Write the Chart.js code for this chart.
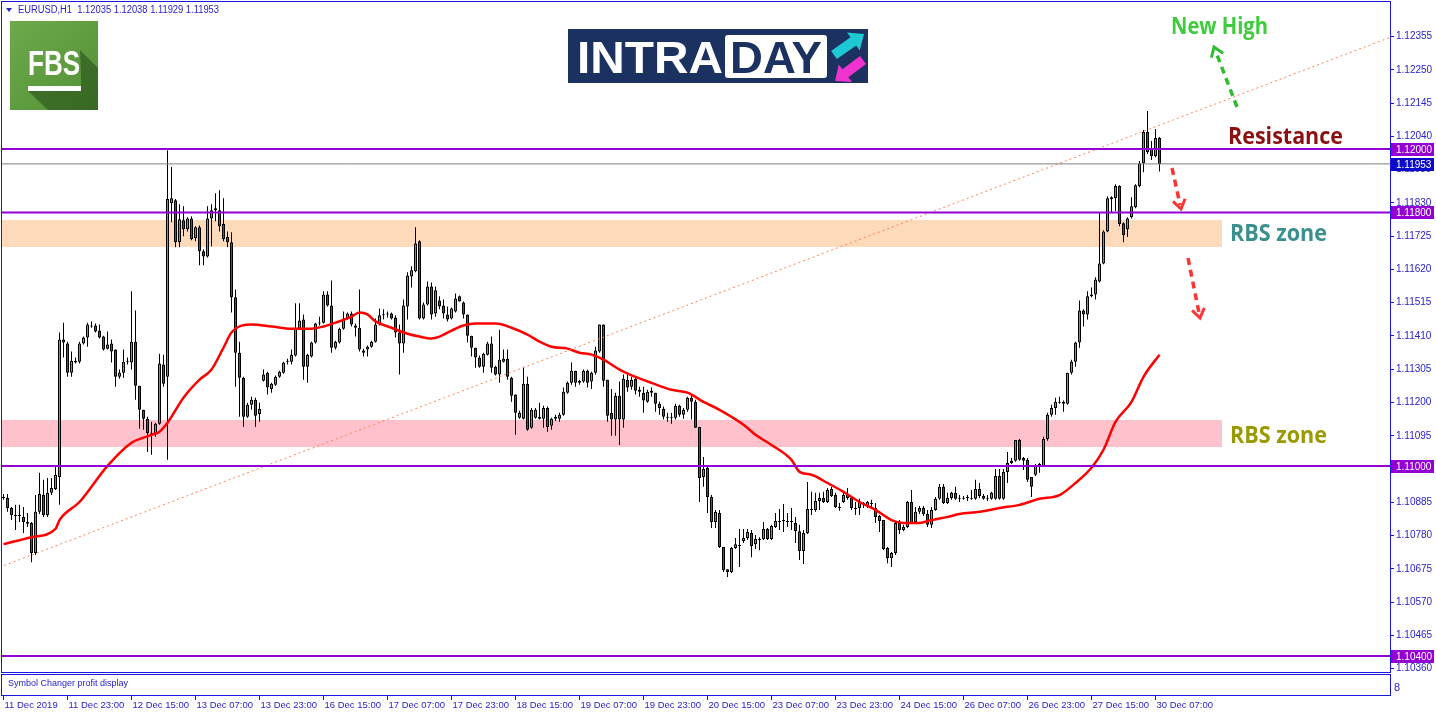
<!DOCTYPE html>
<html>
<head>
<meta charset="utf-8">
<title>EURUSD H1 - Intraday</title>
<script src="https://cdn.jsdelivr.net/npm/chart.js@4.4.1/dist/chart.umd.min.js"></script>
<style>
  html, body { margin: 0; padding: 0; background: #ffffff; }
  canvas { display: block; }
</style>
</head>
<body>
<canvas id="chart" width="1436" height="716"></canvas>
<script>
// ---- data (bar 0 = 11 Dec 07:00) ----

const tickLabels = ['11 Dec 2019', '11 Dec 23:00', '12 Dec 15:00', '13 Dec 07:00', '13 Dec 23:00',
  '16 Dec 15:00', '17 Dec 07:00', '17 Dec 23:00', '18 Dec 15:00', '19 Dec 07:00', '19 Dec 23:00',
  '20 Dec 15:00', '23 Dec 07:00', '23 Dec 23:00', '24 Dec 15:00', '26 Dec 07:00', '26 Dec 23:00',
  '27 Dec 15:00', '30 Dec 07:00'];

const priceTicks = [1.12355, 1.12250, 1.12145, 1.12040, 1.11935, 1.11830, 1.11725, 1.11620, 1.11515, 1.11410,
  1.11305, 1.11200, 1.11095, 1.10990, 1.10885, 1.10780, 1.10675, 1.10570, 1.10465, 1.10360];

const open = [
  1.10902, 1.10899, 1.10867, 1.10845, 1.10842, 1.10839, 1.10823, 1.10820, 1.10725, 1.10855,
  1.10908, 1.10845, 1.10915, 1.10927, 1.10965, 1.11399, 1.11386, 1.11294, 1.11326, 1.11329,
  1.11386, 1.11405, 1.11443, 1.11443, 1.11427, 1.11408, 1.11370, 1.11386, 1.11367, 1.11281,
  1.11294, 1.11329, 1.11326, 1.11392, 1.11253, 1.11177, 1.11149, 1.11104, 1.11101, 1.11133,
  1.11320, 1.11281, 1.11829, 1.11838, 1.11706, 1.11775, 1.11747, 1.11781, 1.11718, 1.11753,
  1.11677, 1.11661, 1.11781, 1.11807, 1.11807, 1.11763, 1.11722, 1.11706, 1.11532, 1.11357,
  1.11278, 1.11155, 1.11193, 1.11209, 1.11164, 1.11269, 1.11294, 1.11243, 1.11256, 1.11281,
  1.11294, 1.11329, 1.11329, 1.11348, 1.11433, 1.11462, 1.11313, 1.11345, 1.11389, 1.11449,
  1.11452, 1.11541, 1.11506, 1.11373, 1.11389, 1.11433, 1.11465, 1.11481, 1.11443, 1.11436,
  1.11364, 1.11367, 1.11376, 1.11392, 1.11446, 1.11475, 1.11478, 1.11481, 1.11468, 1.11421,
  1.11386, 1.11503, 1.11598, 1.11614, 1.11709, 1.11465, 1.11509, 1.11566, 1.11481, 1.11522,
  1.11506, 1.11478, 1.11465, 1.11487, 1.11535, 1.11516, 1.11478, 1.11411, 1.11373, 1.11342,
  1.11313, 1.11351, 1.11386, 1.11313, 1.11288, 1.11329, 1.11338, 1.11278, 1.11225, 1.11152,
  1.11149, 1.11259, 1.11120, 1.11152, 1.11155, 1.11149, 1.11183, 1.11127, 1.11155, 1.11149,
  1.11161, 1.11231, 1.11262, 1.11300, 1.11262, 1.11266, 1.11300, 1.11266, 1.11294, 1.11361,
  1.11446, 1.11272, 1.11168, 1.11146, 1.11221, 1.11146, 1.11272, 1.11250, 1.11275, 1.11240,
  1.11231, 1.11202, 1.11237, 1.11231, 1.11196, 1.11180, 1.11155, 1.11155, 1.11152, 1.11190,
  1.11161, 1.11177, 1.11215, 1.11202, 1.11123, 1.10965, 1.10994, 1.10902, 1.10823, 1.10851,
  1.10744, 1.10674, 1.10665, 1.10741, 1.10750, 1.10763, 1.10772, 1.10788, 1.10753, 1.10769,
  1.10769, 1.10801, 1.10769, 1.10807, 1.10826, 1.10826, 1.10826, 1.10823, 1.10820, 1.10794,
  1.10731, 1.10788, 1.10864, 1.10861, 1.10889, 1.10899, 1.10886, 1.10927, 1.10908, 1.10870,
  1.10886, 1.10911, 1.10899, 1.10867, 1.10867, 1.10883, 1.10873, 1.10883, 1.10867, 1.10842,
  1.10829, 1.10741, 1.10709, 1.10725, 1.10820, 1.10798, 1.10807, 1.10886, 1.10823, 1.10855,
  1.10867, 1.10848, 1.10814, 1.10861, 1.10896, 1.10934, 1.10883, 1.10899, 1.10915, 1.10896,
  1.10899, 1.10899, 1.10899, 1.10896, 1.10927, 1.10905, 1.10896, 1.10896, 1.10896, 1.10968,
  1.10896, 1.10981, 1.11009, 1.11016, 1.11082, 1.11025, 1.11019, 1.10965, 1.10972, 1.11000,
  1.11000, 1.11085, 1.11161, 1.11183, 1.11202, 1.11202, 1.11196, 1.11294, 1.11329, 1.11389,
  1.11490, 1.11478, 1.11535, 1.11541, 1.11582, 1.11639, 1.11740, 1.11842, 1.11845, 1.11883,
  1.11766, 1.11747, 1.11785, 1.11816, 1.11883, 1.11955, 1.12054, 1.12003, 1.11977, 1.12035
];

const high = [
  1.10911, 1.10911, 1.10870, 1.10877, 1.10877, 1.10870, 1.10851, 1.10823, 1.10908, 1.10978,
  1.10956, 1.10962, 1.10962, 1.10997, 1.11421, 1.11452, 1.11392, 1.11361, 1.11342, 1.11392,
  1.11408, 1.11452, 1.11456, 1.11449, 1.11446, 1.11411, 1.11424, 1.11399, 1.11367, 1.11304,
  1.11367, 1.11342, 1.11551, 1.11490, 1.11253, 1.11177, 1.11155, 1.11139, 1.11136, 1.11354,
  1.11351, 1.11996, 1.11943, 1.11842, 1.11826, 1.11819, 1.11785, 1.11788, 1.11756, 1.11759,
  1.11683, 1.11819, 1.11826, 1.11860, 1.11870, 1.11845, 1.11740, 1.11737, 1.11557, 1.11392,
  1.11281, 1.11199, 1.11218, 1.11215, 1.11199, 1.11304, 1.11297, 1.11262, 1.11285, 1.11300,
  1.11329, 1.11338, 1.11367, 1.11513, 1.11513, 1.11478, 1.11354, 1.11392, 1.11452, 1.11471,
  1.11551, 1.11551, 1.11585, 1.11395, 1.11436, 1.11487, 1.11484, 1.11487, 1.11449, 1.11557,
  1.11370, 1.11380, 1.11395, 1.11465, 1.11497, 1.11494, 1.11487, 1.11484, 1.11475, 1.11446,
  1.11525, 1.11611, 1.11630, 1.11753, 1.11712, 1.11516, 1.11582, 1.11579, 1.11566, 1.11535,
  1.11525, 1.11503, 1.11500, 1.11544, 1.11538, 1.11519, 1.11478, 1.11411, 1.11373, 1.11348,
  1.11357, 1.11392, 1.11408, 1.11316, 1.11430, 1.11367, 1.11367, 1.11281, 1.11225, 1.11174,
  1.11313, 1.11281, 1.11183, 1.11183, 1.11199, 1.11190, 1.11187, 1.11152, 1.11161, 1.11168,
  1.11247, 1.11266, 1.11326, 1.11300, 1.11272, 1.11304, 1.11304, 1.11297, 1.11376, 1.11446,
  1.11446, 1.11272, 1.11243, 1.11231, 1.11266, 1.11288, 1.11288, 1.11281, 1.11281, 1.11250,
  1.11250, 1.11240, 1.11247, 1.11231, 1.11202, 1.11187, 1.11168, 1.11168, 1.11196, 1.11193,
  1.11183, 1.11218, 1.11225, 1.11209, 1.11123, 1.11028, 1.10997, 1.10908, 1.10861, 1.10861,
  1.10744, 1.10674, 1.10744, 1.10772, 1.10801, 1.10801, 1.10801, 1.10798, 1.10782, 1.10775,
  1.10823, 1.10804, 1.10814, 1.10851, 1.10864, 1.10880, 1.10851, 1.10867, 1.10839, 1.10814,
  1.10798, 1.10949, 1.10918, 1.10915, 1.10915, 1.10918, 1.10930, 1.10934, 1.10915, 1.10883,
  1.10915, 1.10930, 1.10902, 1.10886, 1.10896, 1.10886, 1.10889, 1.10893, 1.10883, 1.10845,
  1.10829, 1.10744, 1.10728, 1.10823, 1.10829, 1.10814, 1.10889, 1.10924, 1.10870, 1.10873,
  1.10873, 1.10861, 1.10870, 1.10902, 1.10943, 1.10943, 1.10915, 1.10918, 1.10934, 1.10908,
  1.10905, 1.10908, 1.10924, 1.10956, 1.10946, 1.10911, 1.10908, 1.10918, 1.10990, 1.10990,
  1.10990, 1.11044, 1.11025, 1.11082, 1.11085, 1.11028, 1.11025, 1.10965, 1.11006, 1.11009,
  1.11092, 1.11168, 1.11193, 1.11215, 1.11218, 1.11206, 1.11294, 1.11335, 1.11392, 1.11522,
  1.11494, 1.11551, 1.11563, 1.11595, 1.11800, 1.11744, 1.11851, 1.11851, 1.11889, 1.11886,
  1.11769, 1.11785, 1.11848, 1.11889, 1.11962, 1.12060, 1.12120, 1.12025, 1.12063, 1.12038
];

const low = [
  1.10893, 1.10855, 1.10829, 1.10798, 1.10823, 1.10788, 1.10807, 1.10696, 1.10719, 1.10848,
  1.10839, 1.10839, 1.10908, 1.10924, 1.10877, 1.11342, 1.11281, 1.11281, 1.11323, 1.11323,
  1.11383, 1.11376, 1.11436, 1.11421, 1.11402, 1.11364, 1.11367, 1.11326, 1.11250, 1.11275,
  1.11278, 1.11320, 1.11304, 1.11209, 1.11117, 1.11114, 1.11044, 1.11035, 1.11092, 1.11130,
  1.11250, 1.11019, 1.11769, 1.11690, 1.11690, 1.11725, 1.11740, 1.11712, 1.11709, 1.11633,
  1.11633, 1.11658, 1.11693, 1.11772, 1.11740, 1.11709, 1.11690, 1.11484, 1.11250, 1.11155,
  1.11123, 1.11152, 1.11177, 1.11123, 1.11139, 1.11266, 1.11225, 1.11231, 1.11253, 1.11278,
  1.11291, 1.11320, 1.11320, 1.11345, 1.11430, 1.11272, 1.11262, 1.11342, 1.11386, 1.11443,
  1.11449, 1.11503, 1.11357, 1.11367, 1.11386, 1.11430, 1.11462, 1.11440, 1.11408, 1.11361,
  1.11345, 1.11345, 1.11373, 1.11389, 1.11443, 1.11462, 1.11468, 1.11462, 1.11405, 1.11288,
  1.11357, 1.11462, 1.11563, 1.11611, 1.11462, 1.11462, 1.11506, 1.11462, 1.11471, 1.11494,
  1.11465, 1.11456, 1.11462, 1.11484, 1.11519, 1.11465, 1.11389, 1.11345, 1.11310, 1.11310,
  1.11294, 1.11348, 1.11294, 1.11285, 1.11262, 1.11326, 1.11272, 1.11202, 1.11098, 1.11149,
  1.11146, 1.11111, 1.11117, 1.11149, 1.11146, 1.11120, 1.11108, 1.11114, 1.11142, 1.11139,
  1.11158, 1.11228, 1.11256, 1.11250, 1.11256, 1.11262, 1.11247, 1.11243, 1.11288, 1.11357,
  1.11250, 1.11139, 1.11095, 1.11095, 1.11066, 1.11120, 1.11234, 1.11240, 1.11225, 1.11218,
  1.11168, 1.11199, 1.11218, 1.11171, 1.11161, 1.11146, 1.11139, 1.11133, 1.11146, 1.11155,
  1.11149, 1.11171, 1.11146, 1.11120, 1.10886, 1.10934, 1.10851, 1.10804, 1.10804, 1.10741,
  1.10665, 1.10649, 1.10662, 1.10738, 1.10681, 1.10757, 1.10766, 1.10712, 1.10738, 1.10734,
  1.10766, 1.10766, 1.10766, 1.10804, 1.10798, 1.10791, 1.10807, 1.10798, 1.10757, 1.10703,
  1.10690, 1.10785, 1.10845, 1.10855, 1.10861, 1.10883, 1.10883, 1.10902, 1.10867, 1.10858,
  1.10883, 1.10893, 1.10861, 1.10845, 1.10845, 1.10867, 1.10867, 1.10867, 1.10820, 1.10791,
  1.10734, 1.10693, 1.10681, 1.10719, 1.10785, 1.10794, 1.10804, 1.10817, 1.10817, 1.10848,
  1.10842, 1.10807, 1.10804, 1.10858, 1.10893, 1.10880, 1.10880, 1.10893, 1.10893, 1.10886,
  1.10893, 1.10889, 1.10893, 1.10893, 1.10899, 1.10893, 1.10889, 1.10893, 1.10893, 1.10893,
  1.10893, 1.10946, 1.11006, 1.11013, 1.11016, 1.10987, 1.10949, 1.10902, 1.10968, 1.10978,
  1.11000, 1.11079, 1.11155, 1.11161, 1.11196, 1.11171, 1.11193, 1.11288, 1.11313, 1.11373,
  1.11440, 1.11462, 1.11532, 1.11525, 1.11579, 1.11636, 1.11737, 1.11800, 1.11804, 1.11756,
  1.11706, 1.11722, 1.11781, 1.11813, 1.11879, 1.11927, 1.11984, 1.11965, 1.11974, 1.11929
];

const close = [
  1.10899, 1.10867, 1.10845, 1.10842, 1.10845, 1.10823, 1.10817, 1.10725, 1.10855, 1.10911,
  1.10845, 1.10915, 1.10930, 1.10972, 1.11399, 1.11389, 1.11294, 1.11332, 1.11332, 1.11386,
  1.11405, 1.11446, 1.11440, 1.11424, 1.11405, 1.11367, 1.11383, 1.11361, 1.11281, 1.11294,
  1.11329, 1.11332, 1.11392, 1.11253, 1.11177, 1.11149, 1.11104, 1.11101, 1.11133, 1.11323,
  1.11259, 1.11842, 1.11845, 1.11706, 1.11778, 1.11747, 1.11781, 1.11715, 1.11753, 1.11677,
  1.11661, 1.11781, 1.11807, 1.11813, 1.11756, 1.11715, 1.11706, 1.11532, 1.11357, 1.11278,
  1.11155, 1.11193, 1.11209, 1.11158, 1.11180, 1.11288, 1.11247, 1.11259, 1.11281, 1.11297,
  1.11326, 1.11332, 1.11351, 1.11436, 1.11459, 1.11313, 1.11351, 1.11389, 1.11449, 1.11452,
  1.11541, 1.11506, 1.11373, 1.11392, 1.11433, 1.11465, 1.11481, 1.11446, 1.11436, 1.11367,
  1.11357, 1.11376, 1.11392, 1.11446, 1.11475, 1.11478, 1.11481, 1.11465, 1.11421, 1.11386,
  1.11506, 1.11601, 1.11617, 1.11702, 1.11465, 1.11509, 1.11566, 1.11478, 1.11554, 1.11503,
  1.11481, 1.11462, 1.11497, 1.11528, 1.11519, 1.11478, 1.11411, 1.11373, 1.11342, 1.11313,
  1.11354, 1.11386, 1.11310, 1.11288, 1.11335, 1.11338, 1.11281, 1.11221, 1.11168, 1.11168,
  1.11259, 1.11114, 1.11177, 1.11177, 1.11149, 1.11183, 1.11123, 1.11149, 1.11149, 1.11161,
  1.11234, 1.11262, 1.11300, 1.11262, 1.11269, 1.11300, 1.11262, 1.11294, 1.11364, 1.11446,
  1.11269, 1.11158, 1.11146, 1.11221, 1.11146, 1.11275, 1.11247, 1.11272, 1.11237, 1.11234,
  1.11206, 1.11234, 1.11231, 1.11196, 1.11183, 1.11155, 1.11152, 1.11152, 1.11190, 1.11161,
  1.11177, 1.11215, 1.11202, 1.11120, 1.10962, 1.10990, 1.10902, 1.10823, 1.10855, 1.10744,
  1.10671, 1.10665, 1.10741, 1.10753, 1.10747, 1.10772, 1.10791, 1.10747, 1.10769, 1.10766,
  1.10801, 1.10769, 1.10810, 1.10826, 1.10823, 1.10829, 1.10823, 1.10826, 1.10794, 1.10731,
  1.10788, 1.10864, 1.10861, 1.10889, 1.10899, 1.10886, 1.10924, 1.10905, 1.10870, 1.10867,
  1.10908, 1.10899, 1.10867, 1.10864, 1.10886, 1.10880, 1.10886, 1.10880, 1.10839, 1.10826,
  1.10738, 1.10709, 1.10725, 1.10820, 1.10798, 1.10807, 1.10886, 1.10820, 1.10855, 1.10867,
  1.10848, 1.10814, 1.10861, 1.10896, 1.10934, 1.10883, 1.10899, 1.10915, 1.10896, 1.10899,
  1.10896, 1.10902, 1.10896, 1.10927, 1.10905, 1.10896, 1.10899, 1.10915, 1.10968, 1.10896,
  1.10981, 1.11009, 1.11016, 1.11082, 1.11019, 1.11016, 1.10956, 1.10934, 1.11003, 1.11006,
  1.11085, 1.11161, 1.11183, 1.11202, 1.11199, 1.11196, 1.11294, 1.11329, 1.11389, 1.11490,
  1.11478, 1.11535, 1.11541, 1.11588, 1.11639, 1.11740, 1.11845, 1.11848, 1.11883, 1.11763,
  1.11728, 1.11781, 1.11819, 1.11886, 1.11955, 1.12054, 1.11990, 1.11977, 1.12035, 1.11953
];

// red moving average, read at these bars
const maBars = [0, 7, 13, 14, 19, 26, 32, 35, 37, 39, 41, 45, 49, 52, 55, 57, 62, 67, 72, 77,
  80, 83, 87, 89, 91, 93, 97, 101, 104, 107, 109, 112, 115, 118, 123, 127, 131, 134, 137, 141,
  144, 147, 150, 154, 158, 162, 167, 171, 175, 179, 185, 188, 192, 197, 199, 202, 206, 210, 214, 218,
  222, 225, 229, 232, 236, 239, 244, 249, 254, 259, 264, 268, 272, 275, 278, 282, 285, 289];
const maValues = [1.10753, 1.10775, 1.10801, 1.10829, 1.10886, 1.11000, 1.11073, 1.11089, 1.11098, 1.11108,
  1.11136, 1.11215, 1.11272, 1.11304, 1.11373, 1.11421, 1.11446, 1.11440, 1.11433, 1.11433,
  1.11440, 1.11452, 1.11471, 1.11484, 1.11478, 1.11456, 1.11436, 1.11417, 1.11408, 1.11402,
  1.11408, 1.11427, 1.11443, 1.11449, 1.11449, 1.11436, 1.11414, 1.11392, 1.11376, 1.11370,
  1.11357, 1.11351, 1.11335, 1.11304, 1.11281, 1.11262, 1.11240, 1.11231, 1.11202, 1.11177,
  1.11130, 1.11098, 1.11066, 1.11019, 1.10981, 1.10972, 1.10946, 1.10918, 1.10886, 1.10861,
  1.10829, 1.10820, 1.10820, 1.10829, 1.10839, 1.10848, 1.10855, 1.10867, 1.10877, 1.10896,
  1.10908, 1.10946, 1.10994, 1.11051, 1.11139, 1.11202, 1.11281, 1.11351];

// dotted trend line
const trendBars = [-1, 348];
const trendValues = [1.10680, 1.12359];

// horizontal levels, bid line, RBS zones
const levels = [1.12000, 1.11800, 1.11000, 1.10400];
const bidPrice = 1.11953;
const zoneTop = [1.11775, 1.11146];
const zoneBottom = [1.11690, 1.11060];
const zoneEndBar = 304.6;

// ---- styling ----
const FRAME = '#1717e0';
const AXIS_TEXT = '#2a22cc';
const UP = '#2fcc2f';
const DOWN = '#dd1a1a';
const LEVEL = '#9400d3';
const FONT = '"Liberation Sans", Arial, sans-serif';
const ZONE_COLORS = ['#fddab9', '#ffc1cc'];

const bars = open.map((_, i) => i);
const wickData = bars.map(i => ({ x: i, y: [low[i], high[i]] }));
const bodyData = bars.map(i => ({ x: i, y: [open[i], close[i]] }));
const bodyColors = bars.map(i => close[i] > open[i] ? UP : (close[i] < open[i] ? DOWN : '#000'));

function dashedArrow(ctx, x1, y1, x2, y2, color) {
  const ang = Math.atan2(y2 - y1, x2 - x1);
  ctx.save();
  ctx.strokeStyle = color;
  ctx.lineWidth = 3.5;
  ctx.setLineDash([7, 5]);
  ctx.beginPath();
  ctx.moveTo(x1, y1);
  ctx.lineTo(x2 - 4 * Math.cos(ang), y2 - 4 * Math.sin(ang));
  ctx.stroke();
  ctx.setLineDash([]);
  ctx.lineWidth = 3;
  ctx.beginPath();
  ctx.moveTo(x2 - 11 * Math.cos(ang - 0.6), y2 - 11 * Math.sin(ang - 0.6));
  ctx.lineTo(x2, y2);
  ctx.lineTo(x2 - 11 * Math.cos(ang + 0.6), y2 - 11 * Math.sin(ang + 0.6));
  ctx.stroke();
  ctx.restore();
}

function blockArrow(ctx, x1, y1, x2, y2, color) {
  const ang = Math.atan2(y2 - y1, x2 - x1);
  const len = Math.hypot(x2 - x1, y2 - y1);
  ctx.save();
  ctx.translate(x1, y1);
  ctx.rotate(ang);
  ctx.fillStyle = color;
  ctx.beginPath();
  ctx.moveTo(0, -5);
  ctx.lineTo(len - 13, -5);
  ctx.lineTo(len - 13, -11);
  ctx.lineTo(len, 0);
  ctx.lineTo(len - 13, 11);
  ctx.lineTo(len - 13, 5);
  ctx.lineTo(0, 5);
  ctx.closePath();
  ctx.fill();
  ctx.restore();
}

// text stretched or squeezed to an exact width
function fitText(ctx, text, x, y, width) {
  const w = ctx.measureText(text).width;
  ctx.save();
  ctx.translate(x, y);
  ctx.scale(width / w, 1);
  ctx.fillText(text, 0, 0);
  ctx.restore();
}

function priceBox(ctx, py, value, color) {
  const top = Math.round(py) - 6;
  ctx.fillStyle = color;
  ctx.fillRect(1391, top, 43, 13);
  ctx.fillStyle = '#ffffff';
  ctx.font = '10px ' + FONT;
  ctx.textAlign = 'left';
  ctx.textBaseline = 'middle';
  ctx.fillText(value.toFixed(5), 1396, top + 7);
}

const noPad = s => { s.paddingLeft = 0; s.paddingRight = 0; s.paddingTop = 0; s.paddingBottom = 0; };

const decorations = {
  id: 'decorations',
  beforeDatasetsDraw(chart) {
    const { ctx, chartArea: a, scales: { x, y } } = chart;
    ctx.save();
    ctx.beginPath();
    ctx.rect(a.left, a.top, a.width, a.height);
    ctx.clip();
    const xr = Math.round(x.getPixelForValue(zoneEndBar));
    zoneTop.forEach((top, k) => {
      const y0 = Math.round(y.getPixelForValue(top));
      const y1 = Math.round(y.getPixelForValue(zoneBottom[k]));
      ctx.fillStyle = ZONE_COLORS[k];
      ctx.fillRect(a.left, y0, xr - a.left, y1 - y0);
    });
    ctx.restore();
  },
  afterDraw(chart) {
    const { ctx, chartArea: a, scales: { x, y } } = chart;
    ctx.save();

    // right axis price tags
    levels.forEach(v => priceBox(ctx, y.getPixelForValue(v), v, LEVEL));
    priceBox(ctx, y.getPixelForValue(bidPrice), bidPrice, '#0a0ac8');

    // window frames (main + indicator sub-window)
    ctx.strokeStyle = FRAME;
    ctx.lineWidth = 1;
    ctx.strokeRect(1.5, 1.5, a.right - 1, a.bottom - 1);
    ctx.strokeRect(1.5, a.bottom + 2.5, a.right - 1, 21);
    ctx.beginPath();
    x.ticks.forEach(t => {
      const px = Math.floor(x.getPixelForValue(t.value)) + 0.5;
      ctx.moveTo(px, a.bottom + 24);
      ctx.lineTo(px, a.bottom + 28);
    });
    ctx.stroke();

    ctx.fillStyle = AXIS_TEXT;
    ctx.font = '9px ' + FONT;
    ctx.textAlign = 'left';
    ctx.textBaseline = 'middle';
    ctx.fillText('Symbol Changer profit display', 8, a.bottom + 12);
    ctx.font = '11px ' + FONT;
    ctx.fillText('8', 1394, a.bottom + 16);

    // title line
    ctx.beginPath();
    ctx.moveTo(6, 8); ctx.lineTo(12, 8); ctx.lineTo(9, 12); ctx.closePath();
    ctx.fill();
    ctx.font = '10px ' + FONT;
    fitText(ctx, 'EURUSD,H1  1.12035 1.12038 1.11929 1.11953', 18, 10, 201);

    // FBS logo
    const g = ctx.createLinearGradient(10, 21, 98, 110);
    g.addColorStop(0, '#6caa4c');
    g.addColorStop(1, '#548f35');
    ctx.fillStyle = g;
    ctx.fillRect(10, 21, 88, 89);
    ctx.fillStyle = 'rgba(35, 75, 20, 0.55)';
    ctx.beginPath();
    ctx.moveTo(80, 50); ctx.lineTo(98, 68); ctx.lineTo(98, 110);
    ctx.lineTo(48, 110); ctx.lineTo(28, 91); ctx.lineTo(81, 91); ctx.lineTo(81, 76);
    ctx.closePath();
    ctx.fill();
    ctx.fillStyle = '#ffffff';
    ctx.font = 'bold 35px ' + FONT;
    ctx.textBaseline = 'alphabetic';
    fitText(ctx, 'FBS', 28, 75, 52);
    ctx.fillRect(28, 86, 53, 5);

    // INTRADAY logo
    ctx.fillStyle = '#1b3260';
    ctx.fillRect(568, 29, 300, 54);
    ctx.fillStyle = '#ffffff';
    ctx.font = 'bold 44px ' + FONT;
    fitText(ctx, 'INTRA', 577, 73, 146);
    ctx.beginPath();
    ctx.roundRect(725, 35, 102, 43, 3);
    ctx.fill();
    ctx.fillStyle = '#1b3260';
    fitText(ctx, 'DAY', 730, 73, 92);
    blockArrow(ctx, 834, 55, 864, 34, '#1ec9d3');
    blockArrow(ctx, 863, 60, 835, 81, '#f032cf');

    // annotations
    ctx.font = 'bold 23px "Open Sans", ' + FONT;
    ctx.textBaseline = 'middle';
    ctx.fillStyle = '#3ccc3c';
    ctx.fillText('New High', 1171, 27, 97);
    ctx.fillStyle = '#8c1010';
    ctx.fillText('Resistance', 1228, 137, 115);
    ctx.fillStyle = '#3a8f8f';
    ctx.fillText('RBS zone', 1230, 234, 97);
    ctx.fillStyle = '#999900';
    ctx.fillText('RBS zone', 1230, 436, 97);

    dashedArrow(ctx, 1237, 107, 1214, 47, '#33bb33');
    dashedArrow(ctx, 1172, 168, 1181, 209, '#ff3535');
    dashedArrow(ctx, 1188, 258, 1200, 318, '#ff3535');

    ctx.restore();
  }
};

new Chart(document.getElementById('chart'), {
  type: 'bar',
  data: {
    datasets: [
      {
        label: 'wick', data: wickData, backgroundColor: '#000000', borderWidth: 0,
        grouped: false, barPercentage: 0.25, categoryPercentage: 1, inflateAmount: 0, order: 6
      },
      {
        label: 'body', data: bodyData, backgroundColor: bodyColors, borderColor: '#000000',
        borderWidth: 1, borderSkipped: false, minBarLength: 1,
        grouped: false, barPercentage: 0.75, categoryPercentage: 1, inflateAmount: 0, order: 5
      },
      {
        type: 'line', label: 'MA', data: maBars.map((b, k) => ({ x: b, y: maValues[k] })),
        borderColor: '#ff0000', borderWidth: 2.5, pointRadius: 0, cubicInterpolationMode: 'monotone', order: 4
      },
      {
        type: 'line', label: 'trend', data: trendBars.map((b, k) => ({ x: b, y: trendValues[k] })),
        borderColor: '#ff8050', borderWidth: 1, borderDash: [2, 3], pointRadius: 0, order: 3
      },
      ...levels.map(v => ({
        type: 'line', label: 'level ' + v, data: [{ x: -2, y: v }, { x: 350, y: v }],
        borderColor: LEVEL, borderWidth: 2, pointRadius: 0, order: 2
      })),
      {
        type: 'line', label: 'bid', data: [{ x: -2, y: bidPrice }, { x: 350, y: bidPrice }],
        borderColor: '#808080', borderWidth: 1, pointRadius: 0, order: 1
      }
    ]
  },
  options: {
    responsive: false,
    animation: false,
    events: [],
    layout: { padding: { left: 2, top: 3, right: 0, bottom: 0 } },
    plugins: { legend: { display: false }, tooltip: { enabled: false } },
    scales: {
      x: {
        type: 'linear', position: 'bottom', min: -0.375, max: 346.625, offset: false,
        afterBuildTicks: s => { s.ticks = tickLabels.map((_, k) => ({ value: k * 16 })); },
        afterFit: s => { s.height = 44; noPad(s); },
        grid: { display: false },
        border: { display: false },
        ticks: {
          autoSkip: false, maxRotation: 0, align: 'start', padding: 20, labelOffset: 1,
          color: AXIS_TEXT, font: { family: FONT, size: 9.5 },
          callback: (v, i) => tickLabels[i]
        }
      },
      y: {
        type: 'linear', position: 'right', min: 1.103495, max: 1.124608,
        afterBuildTicks: s => { s.ticks = priceTicks.map(v => ({ value: v })); },
        afterFit: s => { s.width = 46; noPad(s); },
        grid: { drawOnChartArea: false, drawTicks: true, tickLength: 4, color: FRAME },
        border: { display: false },
        ticks: {
          padding: 2, color: AXIS_TEXT, font: { family: FONT, size: 10 },
          callback: v => v.toFixed(5)
        }
      }
    }
  },
  plugins: [decorations]
});
</script>
</body>
</html>
